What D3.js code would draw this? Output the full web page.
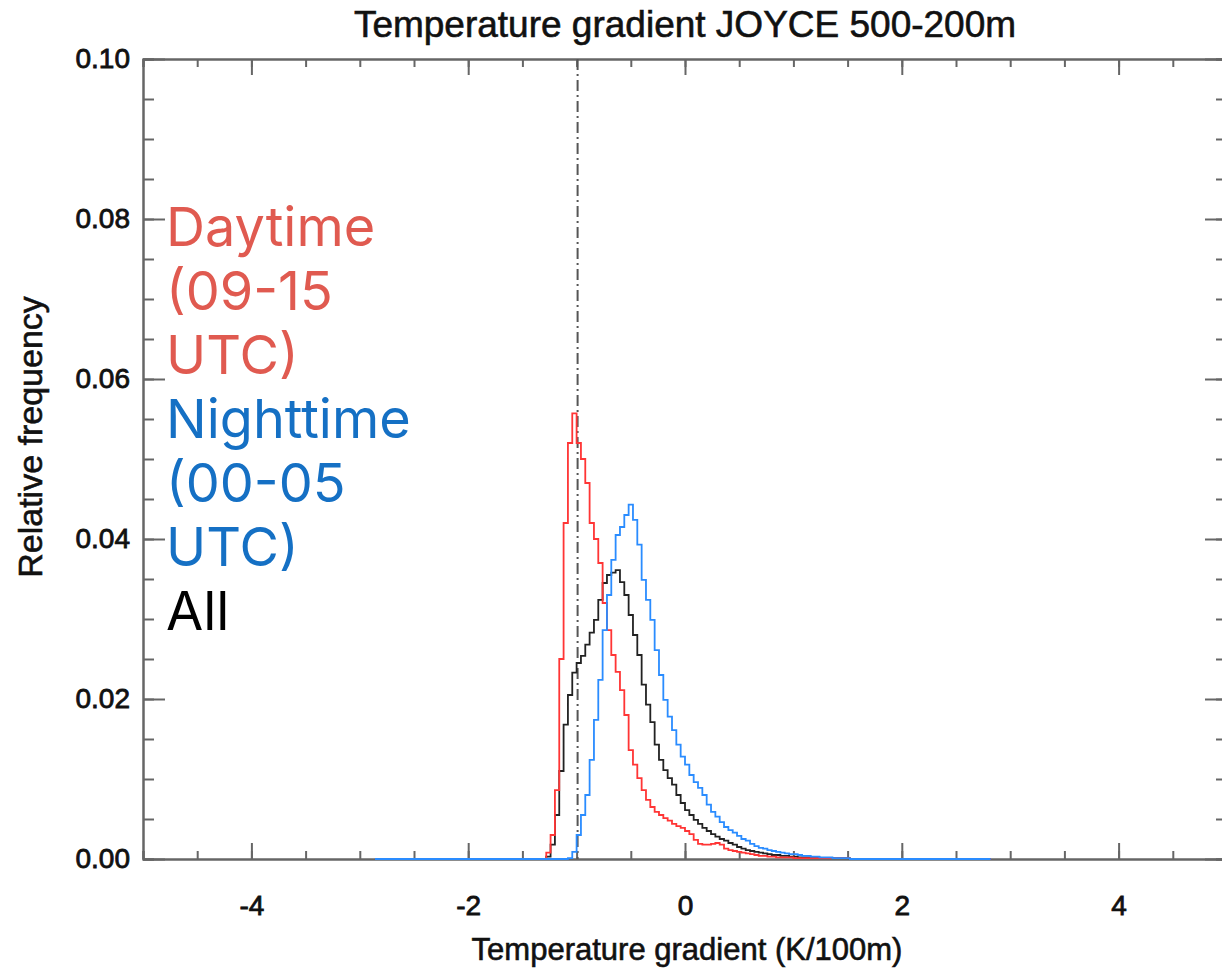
<!DOCTYPE html>
<html>
<head>
<meta charset="utf-8">
<script src="https://cdn.jsdelivr.net/npm/d3@7"></script>
<style>
  body { margin: 0; background: #fff; }
  svg { display: block; }
  .axis text { font-family: "Liberation Sans", Arial, sans-serif; font-size: 28px; fill: #111; stroke: #111; stroke-width: 0.8px; }
  .axis path, .axis line { stroke: #666; stroke-width: 2px; }
  .ttl { font-family: "Liberation Sans", Arial, sans-serif; fill: #111; stroke: #111; stroke-width: 0.6px; }
</style>
</head>
<body>
<svg id="chart" width="1222" height="968"></svg>
<script>
// histogram bins: start and width (K/100m)
var binStart = -1.28, binWidth = 0.04;
// full range of the histogram (zero outside the bins)
var histRange = [-2.86, 2.82];

// Daytime (09-15 UTC)
var dayValues = [
  0.0008, 0.003, 0.0086, 0.025, 0.042, 0.052, 0.0557, 0.052, 0.050, 0.047,
  0.042, 0.040, 0.037, 0.032, 0.0286, 0.0255, 0.0234, 0.0211, 0.018, 0.0136,
  0.0118, 0.0101, 0.0086, 0.0074, 0.0065, 0.0059, 0.0055, 0.0051, 0.0048, 0.0044,
  0.0041, 0.0039, 0.0035, 0.0031, 0.0024, 0.0019, 0.0018, 0.0018, 0.0019, 0.002,
  0.0018, 0.0013, 0.0011, 0.001, 0.0009, 0.0008, 0.0007, 0.0006, 0.0005, 0.0004,
  0.0004, 0.0003, 0.0003, 0.0002, 0.0002, 0.0002, 0.0002, 0.0001, 0.0001, 0.0001,
  0.0001, 0.0001, 0.0001, 0.0001, 0.0001, 0.0001, 0.0001, 0.0001, 0.0001, 0.0001
];
// All
var allValues = [
  0.0003, 0.0018, 0.0055, 0.011, 0.0168, 0.0205, 0.0233, 0.0245, 0.0254, 0.0268,
  0.0283, 0.0299, 0.0324, 0.0345, 0.0355, 0.0358, 0.0361, 0.0346, 0.033, 0.0305,
  0.028, 0.0255, 0.0218, 0.0193, 0.0171, 0.0143, 0.0124, 0.0111, 0.0101, 0.0093,
  0.008, 0.007, 0.0061, 0.0055, 0.0049, 0.0044, 0.0039, 0.0035, 0.0031, 0.0028,
  0.0025, 0.0023, 0.002, 0.0018, 0.0015, 0.0013, 0.0011, 0.001, 0.0009, 0.0008,
  0.0007, 0.0006, 0.0005, 0.0005, 0.0004, 0.0004, 0.0003, 0.0003, 0.0002, 0.0002,
  0.0002, 0.0002, 0.0002, 0.0001, 0.0001, 0.0001, 0.0001, 0.0001, 0.0001, 0.0001
];
// Nighttime (00-05 UTC)
var nightValues = [
  0, 0, 0, 0, 0, 0.0001, 0.0009, 0.003, 0.0055, 0.008,
  0.0124, 0.0174, 0.0224, 0.0286, 0.033, 0.0374, 0.0405, 0.0415, 0.043, 0.0443,
  0.0424, 0.0393, 0.0349, 0.0324, 0.0299, 0.0261, 0.023, 0.0199, 0.0178, 0.0161,
  0.0143, 0.0128, 0.0118, 0.0105, 0.0096, 0.0089, 0.008, 0.0068, 0.0059, 0.0053,
  0.0046, 0.004, 0.0036, 0.0033, 0.0029, 0.0025, 0.0023, 0.0019, 0.0016, 0.0014,
  0.0013, 0.0011, 0.001, 0.0009, 0.0008, 0.0007, 0.0006, 0.0006, 0.0005, 0.0004,
  0.0004, 0.0003, 0.0003, 0.0002, 0.0002, 0.0002, 0.0001, 0.0001, 0.0001, 0.0001
];

var xTicks = [-4, -2, 0, 2, 4];
var yTicks = [0, 0.02, 0.04, 0.06, 0.08, 0.10];
var refLine = -1.0;   // dry adiabatic lapse rate
var legendLines = [
  {text: "Daytime", color: "#e05a50"},
  {text: "(09-15", color: "#e05a50"},
  {text: "UTC)", color: "#e05a50"},
  {text: "Nighttime", color: "#1570c4"},
  {text: "(00-05", color: "#1570c4"},
  {text: "UTC)", color: "#1570c4"},
  {text: "All", color: "#000"}
];

var svg = d3.select("#chart"),
    margin = {top: 59, left: 143},
    width = 1084, height = 800;

var x = d3.scaleLinear().domain([-5, 5]).range([0, width]),
    y = d3.scaleLinear().domain([0, 0.1]).range([height, 0]);

var g = svg.append("g")
    .attr("transform", "translate(" + margin.left + "," + margin.top + ")");

// minor ticks
var xMinor = d3.range(-5, 5.01, 0.5), yMinor = d3.range(0, 0.1001, 0.005);

g.append("g").attr("class", "axis")
    .attr("transform", "translate(0," + height + ")")
    .call(d3.axisBottom(x).tickValues(xMinor).tickSize(-8).tickFormat(""));
g.append("g").attr("class", "axis")
    .call(d3.axisTop(x).tickValues(xMinor).tickSize(-8).tickFormat(""));
g.append("g").attr("class", "axis")
    .call(d3.axisLeft(y).tickValues(yMinor).tickSize(-11).tickFormat(""));
g.append("g").attr("class", "axis")
    .attr("transform", "translate(" + width + ",0)")
    .call(d3.axisRight(y).tickValues(yMinor).tickSize(-11).tickFormat(""));

// major ticks + labels
g.append("g").attr("class", "axis")
    .attr("transform", "translate(0," + height + ")")
    .call(d3.axisBottom(x).tickValues(xTicks).tickSize(-16).tickSizeOuter(0).tickPadding(36)
      .tickFormat(function(d) { return String(d); }));
g.append("g").attr("class", "axis")
    .call(d3.axisTop(x).tickValues(xTicks).tickSize(-16).tickSizeOuter(0).tickFormat(""));
g.append("g").attr("class", "axis")
    .call(d3.axisLeft(y).tickValues(yTicks).tickSize(-22).tickSizeOuter(0).tickPadding(13)
      .tickFormat(d3.format(".2f")));
g.append("g").attr("class", "axis")
    .attr("transform", "translate(" + width + ",0)")
    .call(d3.axisRight(y).tickValues(yTicks).tickSize(-22).tickSizeOuter(0).tickFormat(""));

// dash-dot reference line
g.append("line")
    .attr("x1", x(refLine) + 1).attr("x2", x(refLine) + 1)
    .attr("y1", 0).attr("y2", height)
    .attr("stroke", "#555")
    .attr("stroke-width", 2)
    .attr("stroke-dasharray", "11,4,2,4");

// histogram step lines
function stepPoints(values) {
  var pts = [[histRange[0], 0]];
  values.forEach(function(v, i) { pts.push([binStart + i * binWidth, v]); });
  pts.push([binStart + values.length * binWidth, 0]);
  pts.push([histRange[1], 0]);
  return pts;
}
var line = d3.line()
    .x(function(d) { return x(d[0]); })
    .y(function(d) { return y(d[1]); })
    .curve(d3.curveStepAfter);

g.append("path").datum(stepPoints(allValues))
    .attr("d", line).attr("fill", "none").attr("stroke", "#222").attr("stroke-width", 1.8);
g.append("path").datum(stepPoints(dayValues))
    .attr("d", line).attr("fill", "none").attr("stroke", "#ff3535").attr("stroke-width", 1.8);
g.append("path").datum(stepPoints(nightValues))
    .attr("d", line).attr("fill", "none").attr("stroke", "#2a8cff").attr("stroke-width", 1.8);

// title and axis titles
svg.append("text").attr("class", "ttl")
    .attr("x", margin.left + x(0)).attr("y", 37)
    .attr("text-anchor", "middle")
    .style("font-size", "37px")
    .text("Temperature gradient JOYCE 500-200m");

svg.append("text").attr("class", "ttl")
    .attr("x", margin.left + x(0) + 2).attr("y", 960)
    .attr("text-anchor", "middle")
    .style("font-size", "31px")
    .text("Temperature gradient (K/100m)");

svg.append("text").attr("class", "ttl")
    .attr("transform", "translate(42," + (margin.top + height / 2 - 22) + ") rotate(-90)")
    .attr("text-anchor", "middle")
    .style("font-size", "34px")
    .text("Relative frequency");

// legend text
svg.append("g").selectAll("text")
  .data(legendLines)
  .enter().append("text")
    .attr("x", 166)
    .attr("y", function(d, i) { return 246 + i * 64; })
    .attr("fill", function(d) { return d.color; })
    .style("font-family", "Inter, sans-serif")
    .style("font-size", "54px")
    .text(function(d) { return d.text; });
</script>
</body>
</html>
